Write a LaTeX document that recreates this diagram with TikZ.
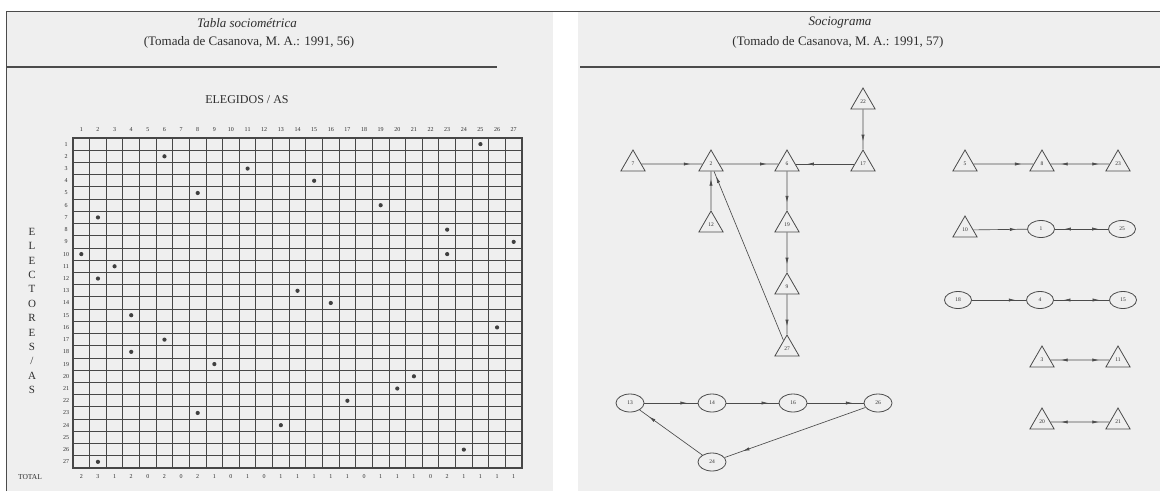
\documentclass[tikz,border=0pt]{standalone}
\usepackage{fontspec}
\setmainfont{Liberation Serif}
\usetikzlibrary{shapes.geometric,arrows.meta,decorations.markings}
\definecolor{ScanInk}{RGB}{45,45,45}
\definecolor{ScanLine}{RGB}{75,75,75}
\definecolor{PaperGray}{RGB}{239,239,239}
\tikzset{
  boy/.style={regular polygon,regular polygon sides=3,draw=ScanLine,line width=0.8pt,minimum size=28pt,inner sep=0pt,font=\fontsize{5.5}{5.5}\selectfont,text=ScanInk},
  girl/.style={ellipse,draw=ScanLine,line width=0.8pt,minimum width=27pt,minimum height=17pt,inner sep=0pt,font=\fontsize{5.5}{5.5}\selectfont,text=ScanInk},
  link/.style={draw=ScanLine,line width=0.65pt},
  choice/.style={link,postaction={decorate,decoration={markings,mark=at position #1 with {\arrow{Latex[length=6.5pt,width=3.2pt]}}}}},
  choice/.default=0.8,
  mutual/.style={link,
    postaction={decorate,decoration={markings,mark=at position 0.18 with {\arrowreversed{Latex[length=6.5pt,width=3.2pt]}}}},
    postaction={decorate,decoration={markings,mark=at position 0.82 with {\arrow{Latex[length=6.5pt,width=3.2pt]}}}}},
}
\tikzset{gridrule/.style={draw=black!72,line width=0.9pt}, vote/.style={fill=black!75}, colnum/.style={font=\fontsize{6}{6}\selectfont,text=ScanInk,inner sep=0pt}, heading/.style={font=\fontsize{13}{14}\selectfont,text=ScanInk,inner sep=0pt}}

\begin{document}
\begin{tikzpicture}[x=1pt,y=-1pt]
\useasboundingbox (0,0) rectangle (1160,491);
\fill[white] (0,0) rectangle (1160,491);
\fill[PaperGray] (6,11) rectangle (553,491);
\fill[PaperGray] (578,11) rectangle (1160,491);
\draw[ScanLine,line width=1pt] (6,491) -- (6,11) -- (1160,11);
\draw[ScanLine,line width=1.8pt] (6,67) -- (497,67);
\draw[ScanLine,line width=1.8pt] (580,67) -- (1160,67);
% headings
\node[heading,font=\fontsize{13}{14}\selectfont\itshape] (tabtitle) at (247,23) {Tabla sociométrica};
\node[heading] (tabsource) at (249,42) {(Tomada de Casanova, M. A.: 1991, 56)};
\node[heading,font=\fontsize{13}{14}\selectfont\itshape] (sotitle) at (840,23) {Sociograma};
\node[heading] (sosource) at (838,42) {(Tomado de Casanova, M. A.: 1991, 57)};
% sociometric table
\node[heading,font=\fontsize{12}{13}\selectfont] (elegidos) at (247,100) {ELEGIDOS / AS};
\node[heading,font=\fontsize{11}{14.4}\selectfont,align=center] (electores) at (32,311) {E\\L\\E\\C\\T\\O\\R\\E\\S\\/\\A\\S};
\node[colnum,font=\fontsize{7.5}{8}\selectfont] (total) at (30,477) {TOTAL};
\foreach \i in {0,...,27} {
  \draw[gridrule] ({73+\i*16.63},138) -- ({73+\i*16.63},468);
  \draw[gridrule] (73,{138+\i*12.22}) -- (522,{138+\i*12.22});
}
\draw[gridrule,line width=1.5pt] (73,138) rectangle (522,468);
\foreach \c in {1,...,27}
  \node[colnum] (col\c) at ({73+(\c-0.5)*16.63},130) {\c};
\foreach \r in {1,...,27}
  \node[colnum] (row\r) at (66,{138+(\r-0.5)*12.22}) {\r};
\foreach [count=\c] \t in {2,3,1,2,0,2,0,2,1,0,1,0,1,1,1,1,1,0,1,1,1,0,2,1,1,1,1}
  \node[colnum] (tot\c) at ({73+(\c-0.5)*16.63},477) {\t};
\foreach \r/\c in {1/25,2/6,3/11,4/15,5/8,6/19,7/2,8/23,9/27,10/1,10/23,11/3,12/2,13/14,14/16,15/4,16/26,17/6,18/4,19/9,20/21,21/20,22/17,23/8,24/13,26/24,27/2}
  \fill[vote] ({73+(\c-0.5)*16.63},{138+(\r-0.5)*12.22}) circle (2.1);
% sociogram
\node[boy] (s7) at (633,164) {7};
\node[boy] (s2) at (711,164) {2};
\node[boy] (s6) at (787,164) {6};
\node[boy] (s17) at (863,164) {17};
\node[boy] (s22) at (863,102) {22};
\node[boy] (s12) at (711,225) {12};
\node[boy] (s19) at (787,225) {19};
\node[boy] (s9) at (787,287) {9};
\node[boy] (s27) at (787,349) {27};
\node[boy] (s5) at (965,164) {5};
\node[boy] (s8) at (1042,164) {8};
\node[boy] (s23) at (1118,164) {23};
\node[boy] (s10) at (965,230) {10};
\node[girl] (s1) at (1041,229) {1};
\node[girl] (s25) at (1122,229) {25};
\node[girl] (s18) at (958,300) {18};
\node[girl] (s4) at (1040,300) {4};
\node[girl] (s15) at (1123,300) {15};
\node[boy] (s3) at (1042,360) {3};
\node[boy] (s11) at (1118,360) {11};
\node[boy] (s20) at (1042,422) {20};
\node[boy] (s21) at (1118,422) {21};
\node[girl,minimum width=28pt,minimum height=18pt] (s13) at (630,403) {13};
\node[girl,minimum width=28pt,minimum height=18pt] (s14) at (712,403) {14};
\node[girl,minimum width=28pt,minimum height=18pt] (s16) at (793,403) {16};
\node[girl,minimum width=28pt,minimum height=18pt] (s26) at (878,403) {26};
\node[girl,minimum width=28pt,minimum height=18pt] (s24) at (712,462) {24};
\draw[choice] (s7) -- (s2);
\draw[choice] (s2) -- (s6);
\draw[choice] (s17) -- (s6);
\draw[choice] (s22) -- (s17);
\draw[choice] (s12) -- (s2);
\draw[choice=0.97] (s27) -- (s2);
\draw[choice] (s6) -- (s19);
\draw[choice] (s19) -- (s9);
\draw[choice] (s9) -- (s27);
\draw[choice] (s5) -- (s8);
\draw[mutual] (s8) -- (s23);
\draw[choice] (s10) -- (s1);
\draw[mutual] (s1) -- (s25);
\draw[choice] (s18) -- (s4);
\draw[mutual] (s4) -- (s15);
\draw[mutual] (s3) -- (s11);
\draw[mutual] (s20) -- (s21);
\draw[choice] (s13) -- (s14);
\draw[choice] (s14) -- (s16);
\draw[choice] (s16) -- (s26);
\draw[choice=0.87] (s26) -- (s24);
\draw[choice=0.85] (s24) -- (s13);
\end{tikzpicture}
\end{document}
